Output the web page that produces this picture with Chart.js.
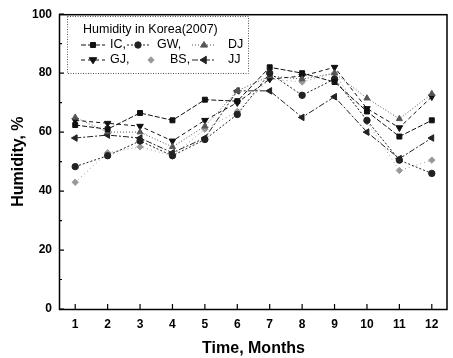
<!DOCTYPE html>
<html>
<head>
<meta charset="utf-8">
<script src="https://cdn.jsdelivr.net/npm/chart.js@4/dist/chart.umd.min.js"></script>
<style>
html,body{margin:0;padding:0;background:#fff;}
#wrap{width:453px;height:358px;position:relative;}
</style>
</head>
<body>
<div id="wrap"><canvas id="c" width="453" height="358"></canvas></div>
<script>
const months = [1,2,3,4,5,6,7,8,9,10,11,12];
const yTicks = [0,20,40,60,80,100];
const IC = [62.4, 61, 66.5, 64, 71, 70.5, 82, 80, 77, 67, 58.5, 64];
const GW = [48.3, 52, 57, 52, 57.5, 66, 80, 72.5, 78, 64, 50.5, 46];
const DJ = [65, 60, 60, 55, 62, 74, 79, 78, 80, 71.5, 64.5, 73];
const GJ = [64, 63, 62, 57, 64, 70, 78, 79, 82, 68, 61.5, 72];
const BS = [43, 53, 55, 52, 61, 67, 78, 77, 80, 63.5, 47, 50.5];
const JJ = [58, 59, 58, 53, 58, 74, 74, 65, 72, 60, 51, 58];
const legendTitle = 'Humidity in Korea(2007)';

const FONT = '"Liberation Sans", Arial, sans-serif';

function pts(arr){ return arr.map((v,i)=>({x:months[i], y:v})); }

const series = [
  {label:'IC,', data:IC, color:'#111', dash:[5,2], style:'rect', rot:0, r:3.5},
  {label:'GW,', data:GW, color:'#222', dash:[2,2], style:'circle', rot:0, r:3.2},
  {label:'DJ', data:DJ, color:'#555', dash:[1,2], style:'triangle', rot:0, r:3.5},
  {label:'GJ,', data:GJ, color:'#111', dash:[4,3], style:'triangle', rot:180, r:3.8},
  {label:'BS,', data:BS, color:'#999', dash:[1,3], style:'rectRot', rot:0, r:3.2},
  {label:'JJ', data:JJ, color:'#222', dash:[6,2,2,2], style:'triangle', rot:270, r:3.8}
];

const datasets = series.map(s=>({
  label:s.label,
  data:pts(s.data),
  borderColor:s.color,
  backgroundColor:s.color,
  borderWidth:1,
  borderDash:s.dash,
  pointStyle:s.style,
  rotation:s.rot,
  pointRadius:s.r,
  pointBorderWidth:1,
  pointBackgroundColor:s.color,
  pointBorderColor:s.color,
  tension:0,
  fill:false
}));

function marker(ctx, style, rot, r, x, y, color){
  ctx.save();
  ctx.translate(x,y);
  ctx.rotate(rot*Math.PI/180);
  ctx.fillStyle=color; ctx.strokeStyle=color; ctx.setLineDash([]);
  ctx.beginPath();
  if(style==='rect'){ const s=r*Math.SQRT1_2; ctx.rect(-s,-s,2*s,2*s); }
  else if(style==='circle'){ ctx.arc(0,0,r,0,Math.PI*2); }
  else if(style==='rectRot'){ ctx.moveTo(0,-r); ctx.lineTo(r,0); ctx.lineTo(0,r); ctx.lineTo(-r,0); ctx.closePath(); }
  else if(style==='triangle'){ const h=r*1.5; ctx.moveTo(0,-r); ctx.lineTo(r*0.866*1.15,r*0.6); ctx.lineTo(-r*0.866*1.15,r*0.6); ctx.closePath(); }
  ctx.fill(); ctx.stroke();
  ctx.restore();
}

const framePlugin = {
  id:'frame',
  afterDatasetsDraw(chart){
    const ctx=chart.ctx, a=chart.chartArea, xs=chart.scales.x, ys=chart.scales.y;
    ctx.save();
    ctx.strokeStyle='#000'; ctx.lineWidth=1.5; ctx.setLineDash([]);
    ctx.strokeRect(a.left+0.5, a.top+0.5, (a.right-1.5)-a.left, a.bottom-a.top);
    ctx.lineWidth=1.2;
    ctx.beginPath();
    for(let v=0; v<=100; v+=10){
      const y=ys.getPixelForValue(v);
      const len = (v%20===0)?5:3;
      ctx.moveTo(a.left, y); ctx.lineTo(a.left+len, y);
    }
    months.forEach(m=>{
      const x=xs.getPixelForValue(m);
      ctx.moveTo(x, a.bottom); ctx.lineTo(x, a.bottom-5);
    });
    ctx.stroke();
    // legend box
    const bx=67, by=16, bw=181, bh=57;
    ctx.strokeStyle='#555'; ctx.lineWidth=1; ctx.setLineDash([1,1.5]);
    ctx.strokeRect(bx+0.5, by+0.5, bw, bh);
    ctx.setLineDash([]);
    ctx.fillStyle='#000';
    ctx.font='12.5px '+FONT;
    ctx.textBaseline='middle'; ctx.textAlign='left';
    ctx.fillText(legendTitle, 83, 30);
    const cols=[{l:81,m:93,t:110},{l:127,m:138,t:157},{l:192,m:204,t:228}];
    const rows=[45,60];
    series.forEach((s,i)=>{
      const c=cols[i%3], y=rows[Math.floor(i/3)];
      let tx=c.t, mx=c.m, l=c.l;
      if(i===4){ mx=151; tx=170; l=null; }
      if(l!==null){
        ctx.strokeStyle=s.color; ctx.lineWidth=1; ctx.setLineDash(s.dash);
        ctx.beginPath(); ctx.moveTo(l,y); ctx.lineTo(l+(mx-l)*2,y); ctx.stroke();
      }
      marker(ctx, s.style, s.rot, s.r, mx, y, s.color);
      ctx.fillStyle='#000'; ctx.setLineDash([]);
      ctx.fillText(s.label, tx, y);
    });
    ctx.restore();
  }
};

new Chart(document.getElementById('c'), {
  type:'line',
  data:{datasets},
  plugins:[framePlugin],
  options:{
    responsive:false,
    animation:false,
    devicePixelRatio:1,
    layout:{padding:{top:14, right:0, left:0, bottom:0}},
    plugins:{legend:{display:false}, tooltip:{enabled:false}},
    scales:{
      x:{
        type:'linear', min:0.5, max:12.5,
        afterFit(s){ s.height=49; },
        afterBuildTicks(s){ s.ticks = months.map(v=>({value:v})); },
        grid:{display:false, drawTicks:false},
        border:{display:false},
        ticks:{padding:8, color:'#000', font:{family:FONT, size:12, weight:'bold'}, maxRotation:0, autoSkip:false},
        title:{display:true, text:'Time, Months', color:'#000', font:{family:FONT, size:16, weight:'bold'}, padding:{top:0,bottom:0}}
      },
      y:{
        min:0, max:100,
        afterFit(s){ s.width=59; },
        afterBuildTicks(s){ s.ticks = yTicks.map(v=>({value:v})); },
        grid:{display:false, drawTicks:false},
        border:{display:false},
        ticks:{padding:7, color:'#000', font:{family:FONT, size:12, weight:'bold'}},
        title:{display:true, text:'Humidity, %', color:'#000', font:{family:FONT, size:16, weight:'bold'}, padding:{top:9,bottom:0}}
      }
    }
  }
});
</script>
</body>
</html>
